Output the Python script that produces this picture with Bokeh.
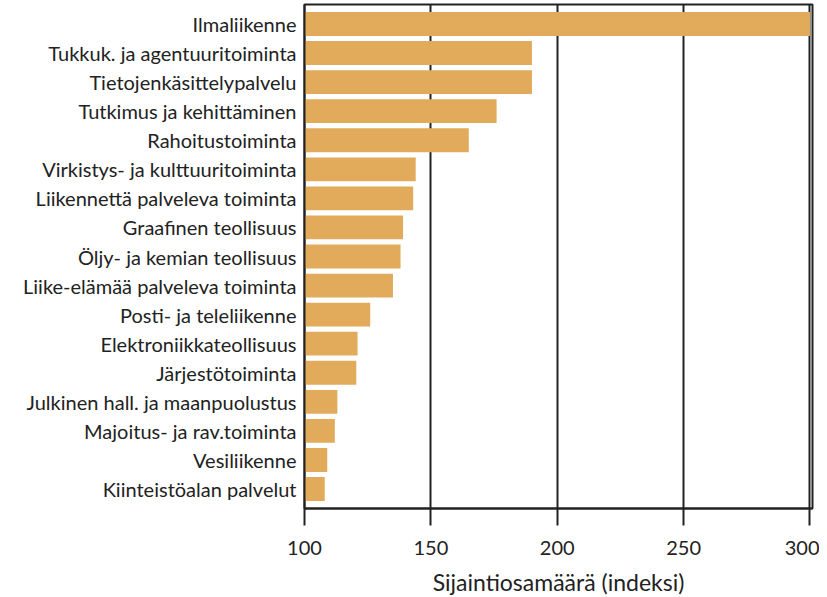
from bokeh.plotting import figure
from bokeh.models import FactorRange, Range1d, FixedTicker
from bokeh.embed import file_html
from bokeh.resources import INLINE

categories = [
    "Ilmaliikenne",
    "Tukkuk. ja agentuuritoiminta",
    "Tietojenkäsittelypalvelu",
    "Tutkimus ja kehittäminen",
    "Rahoitustoiminta",
    "Virkistys- ja kulttuuritoiminta",
    "Liikennettä palveleva toiminta",
    "Graafinen teollisuus",
    "Öljy- ja kemian teollisuus",
    "Liike-elämää palveleva toiminta",
    "Posti- ja teleliikenne",
    "Elektroniikkateollisuus",
    "Järjestötoiminta",
    "Julkinen hall. ja maanpuolustus",
    "Majoitus- ja rav.toiminta",
    "Vesiliikenne",
    "Kiinteistöalan palvelut",
]
values = [300, 190, 190, 176, 165, 144, 143, 139, 138, 135, 126, 121, 120.5, 113, 112, 109, 108]
x_ticks = [100, 150, 200, 250, 300]

FONT = "Lato"
TXT = "#222222"

p = figure(
    width=819, height=598,
    y_range=FactorRange(factors=list(reversed(categories)), range_padding=0.02),
    x_range=Range1d(100, 301),
    output_backend="svg", toolbar_location=None,
    min_border_left=304, min_border_right=7, min_border_top=4, min_border_bottom=80,
)

p.hbar(y=categories, left=100, right=values, height=0.82,
       fill_color="#E1AB5B", line_color=None)

p.xaxis.ticker = FixedTicker(ticks=x_ticks)
p.xaxis.axis_label = "Sijaintiosamäärä (indeksi)"
p.xaxis.axis_label_text_font = FONT
p.xaxis.axis_label_text_font_style = "normal"
p.xaxis.axis_label_text_font_size = "23px"
p.xaxis.axis_label_text_color = TXT
p.xaxis.axis_label_standoff = 10
p.xaxis.major_label_text_font = FONT
p.xaxis.major_label_text_font_size = "20px"
p.xaxis.major_label_text_color = TXT
p.xaxis.major_label_standoff = 15
p.xaxis.major_tick_out = 17
p.xaxis.major_tick_in = 0
p.xaxis.minor_tick_out = 0
p.xaxis.minor_tick_in = 0
p.xaxis.major_tick_line_width = 2
p.xaxis.major_tick_line_color = TXT
p.xaxis.axis_line_width = 2
p.xaxis.axis_line_color = TXT

p.yaxis.major_label_text_font = FONT
p.yaxis.major_label_text_font_size = "20px"
p.yaxis.major_label_text_color = TXT
p.yaxis.major_tick_out = 0
p.yaxis.major_tick_in = 0
p.yaxis.minor_tick_out = 0
p.yaxis.major_label_standoff = 8
p.yaxis.axis_line_width = 2
p.yaxis.axis_line_color = TXT

p.xgrid.grid_line_color = TXT
p.xgrid.grid_line_width = 2
p.xgrid.ticker = FixedTicker(ticks=[150, 200, 250, 300])
p.ygrid.grid_line_color = None

p.outline_line_color = TXT
p.outline_line_width = 2
p.outline_line_alpha = 1
p.background_fill_color = "white"
p.border_fill_color = "white"

open("out.html", "w").write(file_html(p, INLINE))
